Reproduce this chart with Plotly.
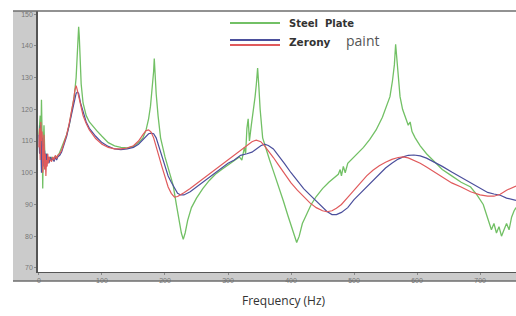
import plotly.graph_objects as go

# ---------------- data ----------------
steel_freq = [0, 2, 3, 4, 5, 6, 7, 8, 10, 12, 14, 16, 18, 20, 22, 25, 28, 32, 36, 40,
              44, 48, 52, 56, 59, 61, 63, 64, 65, 67, 70, 75, 80, 86, 92, 100, 110, 120,
              130, 140, 150, 158, 165, 170, 174, 177, 180, 182, 183, 184, 186, 189, 193,
              200, 207, 213, 218, 222, 226, 229, 232, 236, 242, 250, 260, 270, 280, 290,
              300, 310, 318, 322, 326, 328, 330, 332, 334, 337, 340, 343, 345, 347, 349,
              351, 355, 360, 366, 372, 380, 388, 395, 400, 405, 409, 413, 418, 425, 432,
              440, 450, 460, 470, 475, 478, 480, 483, 486, 490, 495, 505, 515, 525, 535,
              545, 552, 557, 561, 564, 566, 568, 570, 573, 577, 582, 586, 589, 592, 597,
              605, 615, 625, 640, 655, 670, 685, 695, 705, 712, 718, 722, 726, 730, 734,
              738, 742, 746, 750, 754, 757]
steel_db = [112, 118, 108, 123, 112, 95, 110, 115, 101, 106, 103, 105, 104, 105, 104, 105,
            105, 106, 108, 110, 112, 115, 119, 124, 130, 137, 146, 143, 137, 128, 122, 118,
            116, 114.5, 113.2, 111.5, 109.5, 108.5, 108, 107.8, 108.3, 109.5, 111, 113.5,
            117, 121, 127, 132, 136, 131, 125, 118, 111, 105, 100, 96, 90, 85, 81, 79, 81,
            85, 89, 92, 95, 97.5, 99.5, 101, 102.5, 104, 105, 104, 108, 106, 114, 117, 110,
            115, 119, 124, 128, 133, 127, 120, 111, 107.5, 104, 100.5, 96, 91, 86.5, 83.5,
            80, 78, 80, 84, 87, 90, 92.5, 95, 97, 98.5, 99.5, 101, 99, 102, 100, 103, 104,
            106, 108, 110.5, 113.5, 117.5, 121, 124, 129, 134, 140.5, 136, 130, 124, 120,
            117, 115, 116, 113, 111, 108.5, 106, 104, 101, 99, 97, 95.5, 93, 90, 86, 82,
            84, 81, 83, 80, 82, 84, 82, 86, 88, 89]

zerony_freq = [0, 1, 2, 3, 4, 5, 6, 7, 8, 9, 10, 11, 12, 13, 14, 15, 16, 18, 20, 22, 24,
               26, 28, 30, 33, 36, 40, 44, 48, 52, 55, 57, 59, 61, 63, 66, 70, 75, 80, 90,
               100, 110, 120, 130, 140, 150, 158, 165, 170, 174, 178, 182, 186, 190, 195,
               200, 205, 210, 215, 220, 225, 230, 240, 250, 260, 270, 280, 290, 300, 310,
               320, 330, 338, 345, 352, 358, 364, 372, 380, 390, 400, 410, 420, 430, 440,
               450, 457, 465, 472, 480, 490, 500, 510, 520, 530, 540, 550, 560, 570, 578,
               586, 595, 605, 615, 625, 640, 655, 670, 685, 700, 712, 722, 732, 742, 750, 757]
paint_red_db = [108, 114, 104, 116, 110, 113, 100, 108, 112, 101, 106, 99, 104, 102, 106,
                103, 105, 104, 103.5, 105, 104, 105.5, 104.5, 105.5, 106, 107, 109.5, 112,
                115.5, 119.5, 123, 126, 127.5, 126, 124, 121, 118, 115.5, 113.5, 110.8, 109,
                108, 107.5, 107.5, 107.8, 108.5, 110, 112, 113.3, 113.5, 112.8, 111, 108.5,
                105.5, 102, 98.5, 95.5, 93.5, 92.3, 92.5, 93, 93.7, 95, 96.5, 98, 99.5, 101,
                102.5, 104, 105.5, 107, 108.5, 109.8, 110.3, 109.8, 108.5, 107, 104.8, 102.5,
                99.5, 96.8, 94.5, 92.5, 90.5, 89, 88, 87.7, 88, 88.8, 90, 92.2, 94.5, 97, 99,
                100.8, 102.2, 103.3, 104.2, 104.8, 105, 104.7, 104, 103, 101.8, 100.5, 98.5,
                96.8, 95.5, 94, 93, 92.6, 92.6, 93.2, 94.5, 95.2, 95.8]
paint_blue_db = [112, 106, 115, 108, 100, 111, 104, 109, 102, 107, 103, 106, 102, 106, 103,
                 104, 103, 105, 104, 104.5, 103.5, 105, 104, 105, 105.5, 106.5, 109, 111.5,
                 115, 118.5, 121.5, 123.5, 125, 125.5, 125, 122, 119, 116, 114, 111.5, 109.5,
                 108.3, 107.5, 107.3, 107.5, 108, 109, 110.5, 111.5, 112.3, 112.5, 112.3, 111,
                 108.5, 105, 102, 99, 97, 95, 93.5, 93, 93, 94, 95.5, 97, 98.5, 100, 101.5,
                 103, 104, 105.5, 106, 106.5, 107.5, 108.5, 109, 108.6, 107.5, 105.5, 102.8,
                 100, 97.5, 95, 93, 91, 89, 87.8, 86.8, 86.8, 87.5, 89, 91.5, 93.5, 95.5, 97.5,
                 99.5, 101.5, 103, 104.3, 105, 105.5, 105.6, 105.3, 104.6, 103.6, 102, 100.2,
                 98.5, 96.8, 95, 93.8, 93.3, 92.9, 92, 91.6, 91.3]

x_ticks = [0, 100, 200, 300, 400, 500, 600, 700]
y_ticks = [70, 80, 90, 100, 110, 120, 130, 140, 150]

GREEN = "#72c065"
BLUE = "#4b4f9c"
RED = "#e05a5c"

fig = go.Figure()
fig.add_trace(go.Scatter(x=steel_freq, y=steel_db, mode="lines", name="Steel Plate",
                         line=dict(color=GREEN, width=1.3)))
fig.add_trace(go.Scatter(x=zerony_freq, y=paint_blue_db, mode="lines", name="Zerony paint (blue)",
                         line=dict(color=BLUE, width=1.2)))
fig.add_trace(go.Scatter(x=zerony_freq, y=paint_red_db, mode="lines", name="Zerony paint (red)",
                         line=dict(color=RED, width=1.2)))

W, H = 516, 316
ML, MR, MT, MB = 38, 0, 11, 44
PW, PH = W - ML - MR, H - MT - MB


def px(x):
    return (x - ML) / PW


def py(y):
    return (H - MB - y) / PH


PANEL = "#cbcbcb"
shapes = [
    dict(type="rect", xref="paper", yref="paper", x0=px(13), x1=0, y0=py(281), y1=1,
         fillcolor=PANEL, line=dict(width=0), layer="below"),
    dict(type="rect", xref="paper", yref="paper", x0=0, x1=1, y0=py(281), y1=0,
         fillcolor=PANEL, line=dict(width=0), layer="below"),
    dict(type="line", xref="paper", yref="paper", x0=px(13), x1=1, y0=py(281), y1=py(281),
         line=dict(color="#6e6e6e", width=1.5)),
    dict(type="line", xref="paper", yref="paper", x0=px(13), x1=1, y0=1, y1=1,
         line=dict(color="#6e6e6e", width=1.5)),
    # legend sample lines
    dict(type="line", xref="paper", yref="paper", x0=px(230), x1=px(280), y0=py(23), y1=py(23),
         line=dict(color=GREEN, width=2)),
    dict(type="line", xref="paper", yref="paper", x0=px(230), x1=px(280), y0=py(40), y1=py(40),
         line=dict(color=BLUE, width=2)),
    dict(type="line", xref="paper", yref="paper", x0=px(230), x1=px(280), y0=py(45), y1=py(45),
         line=dict(color=RED, width=2)),
]

annotations = [
    dict(text="<b>Steel  Plate</b>", xref="paper", yref="paper", x=px(287), y=py(23),
         xanchor="left", yanchor="middle", showarrow=False,
         font=dict(family="DejaVu Sans", size=10, color="#333333")),
    dict(text="<b>Zerony</b>", xref="paper", yref="paper", x=px(287), y=py(42),
         xanchor="left", yanchor="middle", showarrow=False,
         font=dict(family="DejaVu Sans", size=10.5, color="#333333")),
    dict(text="paint", xref="paper", yref="paper", x=px(344), y=py(41),
         xanchor="left", yanchor="middle", showarrow=False,
         font=dict(family="Open Sans", size=14, color="#555555")),
    dict(text="Frequency (Hz)", xref="paper", yref="paper", x=px(284), y=py(300),
         xanchor="center", yanchor="middle", showarrow=False,
         font=dict(family="Open Sans", size=12, color="#333333")),
]

fig.update_layout(
    width=W, height=H,
    margin=dict(l=ML, r=MR, t=MT, b=MB, pad=0),
    paper_bgcolor="white", plot_bgcolor="white",
    showlegend=False,
    shapes=shapes, annotations=annotations,
    hovermode=False,
)
fig.update_xaxes(range=[-1.5, 757], tickvals=x_ticks, ticktext=[str(v) for v in x_ticks],
                 showgrid=False, zeroline=False, showline=True, linecolor="#555555", linewidth=1,
                 ticks="outside", ticklen=2, tickcolor="#888888",
                 tickfont=dict(family="Liberation Sans", size=7, color="#777777"))
fig.update_yaxes(range=[68.7, 151], tickvals=y_ticks, ticktext=[str(v) for v in y_ticks],
                 showgrid=False, zeroline=False, showline=True, linecolor="#555555", linewidth=1.5,
                 ticks="outside", ticklen=2, tickcolor="#888888",
                 tickfont=dict(family="Liberation Sans", size=7, color="#777777"))

fig.write_html("out.html", config={"displayModeBar": False},
               post_script="document.body.style.margin='0';document.body.style.overflow='hidden';")
